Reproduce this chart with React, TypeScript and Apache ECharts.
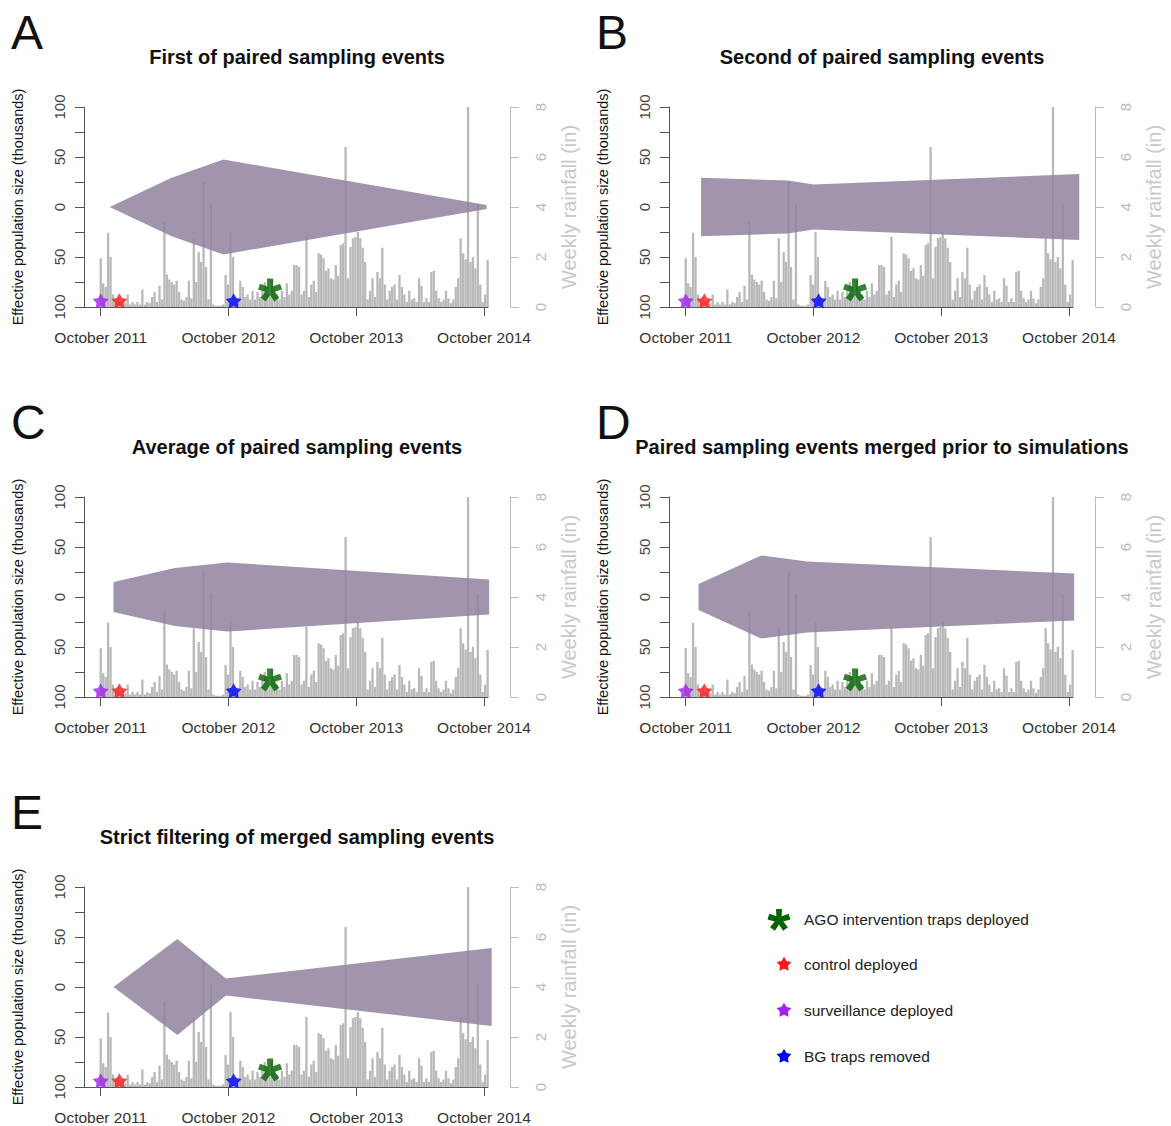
import React, { useEffect, useRef } from 'react';
import * as echarts from 'echarts';

// Weekly rainfall (inches), week 0 = October 2011
const rainfall = [
  1.95, 0.95, 0.8, 2.97, 2.0, 0.5, 0.3, 0.4, 0.2, 0.3,
  0.15, 0.5, 0.1, 0.2, 0.1, 0.2, 0.1, 0.7, 0.1, 0.2,
  0.15, 0.4, 0.6, 0.2, 0.85, 0.3, 3.41, 1.3, 1.1, 1.0,
  0.9, 1.05, 0.6, 0.3, 0.25, 0.4, 1.05, 0.35, 2.75, 1.0,
  2.2, 1.8, 5.0, 1.6, 0.3, 4.15, 0.1, 0.05, 0.05, 0.05,
  0.1, 1.28, 0.9, 3.0, 2.0, 0.4, 0.3, 1.05, 0.8, 0.4,
  0.5, 0.3, 0.65, 0.3, 0.6, 0.4, 0.7, 1.0, 0.8, 0.5,
  1.07, 0.7, 0.5, 0.3, 0.65, 0.4, 0.95, 0.5, 0.65, 1.68,
  1.68, 1.6, 0.5, 0.65, 2.81, 0.4, 0.9, 1.05, 0.6, 2.15,
  2.1, 1.95, 1.45, 1.55, 1.15, 1.1, 1.68, 1.25, 2.48, 2.55,
  6.4, 1.15, 2.4, 2.75, 2.8, 3.0, 2.75, 2.37, 1.8, 0.3,
  0.65, 1.15, 0.4, 1.4, 1.15, 2.37, 0.9, 0.3, 0.65, 0.8,
  0.9, 0.3, 1.28, 0.8, 0.5, 0.2, 0.65, 0.3, 0.35, 0.2,
  1.15, 0.85, 0.2, 0.35, 0.2, 1.4, 1.45, 0.65, 0.35, 0.2,
  0.3, 0.65, 0.35, 0.15, 0.3, 0.8, 1.15, 2.75, 2.15, 1.9,
  8.0, 1.8, 2.0, 1.55, 4.1, 0.9, 0.2, 0.5, 1.88,
];
const weeksPerYear = 52.18;

const xTickYears = [0, 1, 2, 3];
const xTickLabels = ['October 2011', 'October 2012', 'October 2013', 'October 2014'];

const panelLetters = ['A', 'B', 'C', 'D', 'E'];
const panelTitles = [
  'First of paired sampling events',
  'Second of paired sampling events',
  'Average of paired sampling events',
  'Paired sampling events merged prior to simulations',
  'Strict filtering of merged sampling events',
];

// [years since Oct 2011, half-width in thousands]
const polyA = [[0.07, 0], [0.55, 29], [0.96, 47.5], [3.02, 2]];
const polyB = [[0.12, 29.3], [0.8, 26.5], [1.0, 22.5], [3.08, 33]];
const polyC = [[0.1, 15], [0.58, 29], [0.99, 34.5], [3.04, 17.5]];
const polyD = [[0.1, 13], [0.59, 41.5], [0.95, 35.5], [3.04, 23.5]];
const polyE = [[0.1, 0], [0.6, 48], [0.98, 8.5], [3.06, 39]];
const polygons = [polyA, polyB, polyC, polyD, polyE];

// events: [years since Oct 2011, rainfall-axis height]
const eventNames = ['AGO intervention traps deployed', 'control deployed', 'surveillance deployed', 'BG traps removed'];
const eventTimes = [1.325, 0.146, 0, 1.04];
const eventHeights = [0.68, 0.25, 0.25, 0.25];
const eventColors = ['#006400', '#FF1A1A', '#A020F0', '#0000FF'];

const FONT = "'Liberation Sans', Arial, Helvetica, sans-serif";
const panelOrigins = [[0, 0], [585, 0], [0, 390], [585, 390], [0, 780]];

function starPts(cx: number, cy: number, R: number, r: number): number[][] {
  const pts: number[][] = [];
  for (let k = 0; k < 10; k++) {
    const a = -Math.PI / 2 + (k * Math.PI) / 5;
    const rad = k % 2 === 0 ? R : r;
    pts.push([cx + rad * Math.cos(a), cy + rad * Math.sin(a)]);
  }
  return pts;
}
function asteriskPts(cx: number, cy: number, R: number, r: number, halfDeg: number): number[][] {
  const pts: number[][] = [];
  const h = (halfDeg * Math.PI) / 180;
  for (let k = 0; k < 5; k++) {
    const a = -Math.PI / 2 + (k * 2 * Math.PI) / 5;
    pts.push([cx + R * Math.cos(a - h), cy + R * Math.sin(a - h)]);
    pts.push([cx + R * Math.cos(a + h), cy + R * Math.sin(a + h)]);
    const b = a + Math.PI / 5;
    pts.push([cx + r * Math.cos(b), cy + r * Math.sin(b)]);
  }
  return pts;
}
function toPath(pts: number[][]): string {
  return 'path://M' + pts.map((p) => p[0].toFixed(3) + ' ' + p[1].toFixed(3)).join(' L') + ' Z';
}
const starPath = toPath(starPts(0, 0, 10, 5.4));
const asteriskPath = toPath(asteriskPts(0, 0, 10, 4.0, 15));

export default function App() {
  const ref = useRef<HTMLDivElement>(null);
  useEffect(() => {
    if (!ref.current) return;
    const chart = echarts.init(ref.current, undefined, { renderer: 'svg' });
    const grids: any[] = [];
    const xAxes: any[] = [];
    const yAxes: any[] = [];
    const series: any[] = [];
    const graphics: any[] = [];

    panelOrigins.forEach(([dx, dy], i) => {
      grids.push({ left: 84 + dx, top: 107 + dy, width: 404, height: 200 });
      xAxes.push({
        type: 'value', gridIndex: i, min: -0.131, max: 3.031,
        axisLine: { show: true, onZero: false, lineStyle: { color: '#555', width: 1 } },
        axisTick: { show: true, customValues: xTickYears, length: 9, lineStyle: { color: '#555' } },
        axisLabel: {
          customValues: xTickYears,
          formatter: (v: number) => xTickLabels[Math.round(v)] || '',
          margin: 22, fontSize: 15.5, color: '#333', fontFamily: FONT,
        },
        splitLine: { show: false },
      });
      yAxes.push({
        type: 'value', gridIndex: i, position: 'left', min: -100, max: 100, interval: 25,
        axisLine: { show: true, onZero: false, lineStyle: { color: '#555', width: 1 } },
        axisTick: { show: true, length: 9, lineStyle: { color: '#555' } },
        axisLabel: {
          rotate: 90, margin: 17, fontSize: 15, color: '#444', fontFamily: FONT,
          formatter: (v: number) => (v % 50 === 0 ? String(Math.abs(v)) : ''),
        },
        splitLine: { show: false },
        name: 'Effective population size (thousands)', nameLocation: 'middle', nameRotate: 90, nameGap: 59,
        nameTextStyle: { fontSize: 14.5, color: '#111', fontFamily: FONT },
      });
      yAxes.push({
        type: 'value', gridIndex: i, position: 'right', offset: 22.7, min: 0, max: 8, interval: 2,
        axisLine: { show: true, onZero: false, lineStyle: { color: '#bbb', width: 1 } },
        axisTick: { show: true, length: 8, lineStyle: { color: '#bbb' } },
        axisLabel: { rotate: 90, margin: 22, fontSize: 15, color: '#bbb', fontFamily: FONT },
        splitLine: { show: false },
        name: 'Weekly rainfall (in)', nameLocation: 'middle', nameRotate: 90, nameGap: 48,
        nameTextStyle: { fontSize: 20, color: '#c8c8c8', fontFamily: FONT },
      });

      series.push({
        type: 'bar', xAxisIndex: i, yAxisIndex: 2 * i + 1, barWidth: 2.3, silent: true, z: 2,
        itemStyle: { color: '#b9b9b9' },
        data: rainfall.map((v, k) => [k / weeksPerYear, v]),
      });
      const poly = polygons[i];
      series.push({
        type: 'custom', xAxisIndex: i, yAxisIndex: 2 * i, clip: false, silent: true, z: 3,
        data: poly,
        renderItem: (params: any, api: any) => {
          if (params.dataIndex !== 0) return { type: 'group', children: [] };
          const upper = poly.map(([t, h]) => api.coord([t, h]));
          const lower = poly.slice().reverse().map(([t, h]) => api.coord([t, -h]));
          return {
            type: 'polygon',
            shape: { points: upper.concat(lower) },
            style: { fill: 'rgba(144,132,158,0.86)' },
          };
        },
      });
      series.push({
        type: 'scatter', xAxisIndex: i, yAxisIndex: 2 * i + 1, silent: true, z: 5,
        symbolKeepAspect: true,
        data: eventNames.map((n, k) => ({
          name: n,
          value: [eventTimes[k], eventHeights[k]],
          symbol: k === 0 ? asteriskPath : starPath,
          symbolSize: k === 0 ? 24 : 16,
          itemStyle: { color: eventColors[k] },
        })),
      });

      graphics.push({
        type: 'text', x: 11 + dx, y: 32.5 + dy,
        style: { text: panelLetters[i], fontSize: 48, fontFamily: FONT, fill: '#111', align: 'left', verticalAlign: 'middle' },
      });
      graphics.push({
        type: 'text', x: 297 + dx, y: 57 + dy,
        style: { text: panelTitles[i], fontSize: 20, fontWeight: 'bold', fontFamily: FONT, fill: '#111', align: 'center', verticalAlign: 'middle' },
      });
    });

    // legend
    const legendY = [919, 964, 1010, 1056];
    eventNames.forEach((n, k) => {
      const cx = k === 0 ? 779 : 784;
      const pts = k === 0 ? asteriskPts(cx, legendY[k] + 1, 11.5, 4.5, 15) : starPts(cx, legendY[k] + 0.5, 7.8, 4.2);
      graphics.push({ type: 'polygon', shape: { points: pts }, style: { fill: eventColors[k] } });
      graphics.push({
        type: 'text', x: 804, y: legendY[k],
        style: { text: n, fontSize: 15.5, fontFamily: FONT, fill: '#222', align: 'left', verticalAlign: 'middle' },
      });
    });

    chart.setOption({
      animation: false,
      backgroundColor: '#fff',
      textStyle: { fontFamily: FONT },
      grid: grids,
      xAxis: xAxes,
      yAxis: yAxes,
      series,
      graphic: graphics,
    });
    return () => chart.dispose();
  }, []);
  return (
    <div
      ref={ref}
      style={{ position: 'absolute', left: 0, top: 0, width: 1171, height: 1126, background: '#fff' }}
    />
  );
}
